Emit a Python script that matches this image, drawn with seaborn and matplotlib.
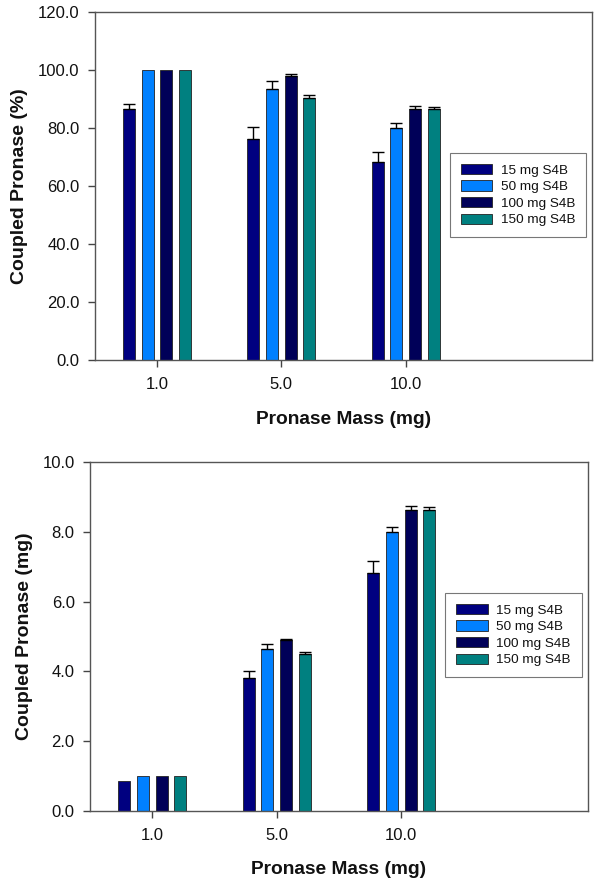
import matplotlib
matplotlib.use("Agg")
import matplotlib.pyplot as plt
from matplotlib.container import BarContainer
import seaborn as sns
import pandas as pd
import numpy as np

categories = ["1.0", "5.0", "10.0"]
series = ["15 mg S4B", "50 mg S4B", "100 mg S4B", "150 mg S4B"]
colors = ["#000080", "#0080FF", "#000058", "#008080"]

# Coupled pronase (%) per series, across categories
pct_vals = [
    [86.4, 76.2, 68.4],
    [100.0, 93.6, 80.1],
    [100.0, 98.0, 86.6],
    [100.0, 90.3, 86.6],
]
pct_err = [
    [1.9, 4.0, 3.3],
    [0.0, 2.7, 1.6],
    [0.0, 0.5, 1.1],
    [0.0, 1.1, 0.6],
]

# Coupled pronase (mg)
mg_vals = [
    [0.87, 3.80, 6.82],
    [1.00, 4.65, 7.99],
    [1.00, 4.89, 8.64],
    [1.00, 4.51, 8.64],
]
mg_err = [
    [0.0, 0.20, 0.34],
    [0.0, 0.14, 0.14],
    [0.0, 0.03, 0.10],
    [0.0, 0.06, 0.07],
]

sns.set_style("white")
plt.rcParams["font.family"] = ["Liberation Sans", "DejaVu Sans"]
plt.rcParams["text.color"] = "#111111"
plt.rcParams["axes.labelcolor"] = "#111111"

fig = plt.figure(figsize=(6.0, 8.81), dpi=100)
ax1 = fig.add_axes([0.158, 0.5914, 0.829, 0.395])
ax2 = fig.add_axes([0.150, 0.0795, 0.830, 0.396])


def draw(ax, vals, errs, ylabel, ymax, yticks, legend_anchor, xlabelpad):
    rows = []
    for s, v in zip(series, vals):
        for c, val in zip(categories, v):
            rows.append({"cat": c, "series": s, "val": val})
    df = pd.DataFrame(rows)
    sns.barplot(data=df, x="cat", y="val", hue="series", order=categories,
                hue_order=series, palette=colors, width=0.6, gap=0.35,
                errorbar=None, edgecolor="#222222", linewidth=0.6, ax=ax,
                saturation=1.0)
    bar_conts = [c for c in ax.containers if isinstance(c, BarContainer)]
    # error bars (upper only)
    for si, cont in enumerate(bar_conts):
        for ci, patch in enumerate(cont.patches):
            e = errs[si][ci]
            if e <= 0:
                continue
            xc = patch.get_x() + patch.get_width() / 2
            top = patch.get_height()
            ax.errorbar([xc], [top], yerr=[[0], [e]], fmt="none",
                        ecolor="black", elinewidth=1.0, capsize=4.5,
                        capthick=1.0, zorder=5)
    ax.set_xlim(-0.5, 3.5)
    ax.set_ylim(0, ymax)
    ax.set_yticks(yticks)
    ax.set_yticklabels([f"{t:.1f}" for t in yticks], fontsize=12, color="#111111")
    ax.set_xticks(range(len(categories)))
    ax.set_xticklabels(categories, fontsize=12, color="#111111")
    ax.tick_params(axis="both", direction="out", length=5, width=1.0,
                   color="#444444", left=True, bottom=True)
    ax.tick_params(axis="y", pad=6)
    ax.tick_params(axis="x", pad=7)
    ax.set_xlabel("Pronase Mass (mg)", fontsize=13.8, fontweight="bold",
                  labelpad=xlabelpad)
    ax.set_ylabel(ylabel, fontsize=14, fontweight="bold", labelpad=7)
    for sp in ax.spines.values():
        sp.set_visible(True)
        sp.set_color("#555555")
        sp.set_linewidth(1.0)
    leg = ax.legend(loc="upper left", bbox_to_anchor=legend_anchor,
                    borderaxespad=0.0,
                    fontsize=9.7, frameon=True, fancybox=False,
                    handlelength=2.35, handleheight=0.8, handletextpad=0.65,
                    labelspacing=0.28, borderpad=0.8, title=None)
    leg.get_frame().set_edgecolor("#555555")
    leg.get_frame().set_linewidth(0.8)


draw(ax1, pct_vals, pct_err, "Coupled Pronase (%)", 120,
     [0, 20, 40, 60, 80, 100, 120], (0.714, 0.595), 14)
draw(ax2, mg_vals, mg_err, "Coupled Pronase (mg)", 10,
     [0, 2, 4, 6, 8, 10], (0.713, 0.625), 13)

fig.savefig("out.png", dpi=100)
